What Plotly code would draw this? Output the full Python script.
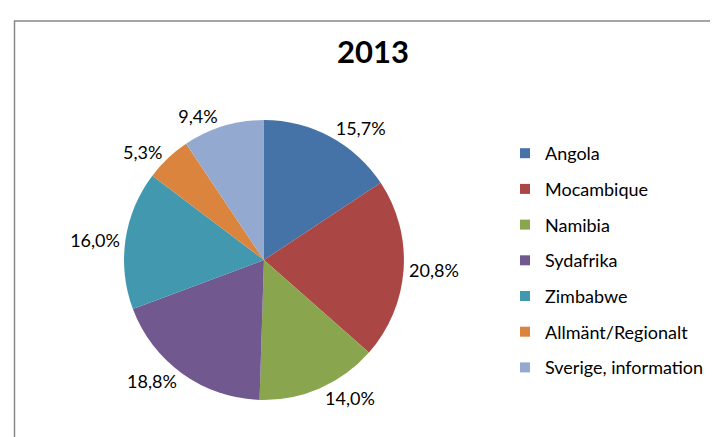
import plotly.graph_objects as go

categories = ["Angola", "Mocambique", "Namibia", "Sydafrika", "Zimbabwe",
              "Allmänt/Regionalt", "Sverige, information"]
values = [15.7, 20.8, 14.0, 18.8, 16.0, 5.3, 9.4]
colors = ["#4572A7", "#AA4643", "#89A54E", "#71588F", "#4198AF", "#DB843D", "#93A9CF"]
title_text = "2013"

labels_txt = [f"{v:.1f}%".replace(".", ",") for v in values]
FONT = "Lato, 'Open Sans', sans-serif"

fig = go.Figure()
fig.add_trace(go.Pie(
    labels=categories, values=values, sort=False, direction="clockwise", rotation=0,
    marker=dict(colors=colors, line=dict(width=0)),
    text=labels_txt, textinfo="text", textposition="outside",
    textfont=dict(family=FONT, size=18, color="#000000"),
    showlegend=False, hoverinfo="label+text",
    domain=dict(x=[0.1616, 0.5514], y=[0.1030, 0.7436]),
))

for i, (c, col) in enumerate(zip(categories, colors)):
    fig.add_trace(go.Scatter(
        x=[None], y=[None], mode="markers", name=c,
        marker=dict(symbol="square", size=10, color=col),
        legendgroup=f"g{i}", showlegend=True,
    ))

fig.update_layout(
    width=718, height=437,
    margin=dict(l=0, r=0, t=0, b=0),
    paper_bgcolor="white", plot_bgcolor="white",
    xaxis=dict(visible=False), yaxis=dict(visible=False),
    title=dict(text=f"<b>{title_text}</b>", x=365/718, xanchor="center",
               y=1 - 44/437, yanchor="middle",
               font=dict(family=FONT, size=31, color="#000000")),
    legend=dict(x=497/718, xanchor="left", y=1 - 127/437, yanchor="top",
                font=dict(family=FONT, size=18, color="#000000"),
                tracegroupgap=9.3, itemwidth=30, bgcolor="rgba(0,0,0,0)"),
    shapes=[dict(type="rect", xref="paper", yref="paper",
                 x0=6.5/718, x1=1.05, y0=-0.05, y1=1 - 13/437,
                 line=dict(color="#888888", width=1.5), layer="below")],
)

fig.write_html("out.html")
